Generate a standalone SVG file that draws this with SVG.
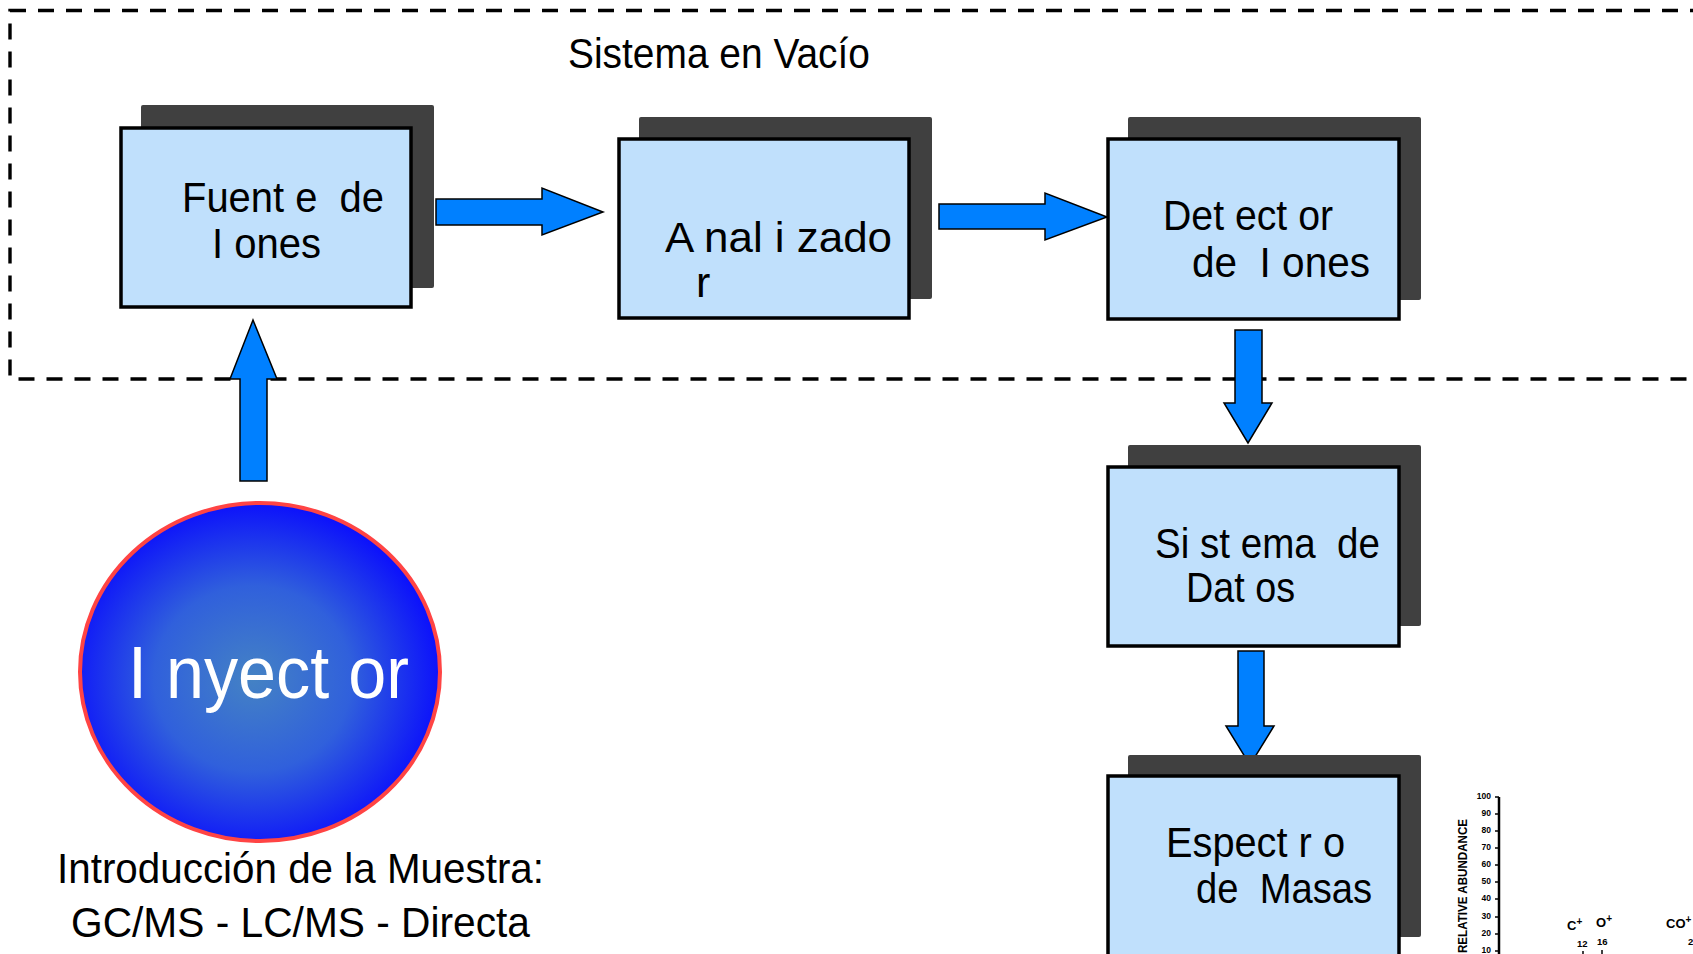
<svg xmlns="http://www.w3.org/2000/svg" width="1693" height="954" viewBox="0 0 1693 954">
  <defs>
    <radialGradient id="injGrad" cx="0.48" cy="0.52" r="0.55">
      <stop offset="0" stop-color="#4482c4"/>
      <stop offset="0.5" stop-color="#3060dc"/>
      <stop offset="1" stop-color="#0808ff"/>
    </radialGradient>
  </defs>
  <style>
    .shadow { fill: #404040; }
    .box { fill: #c0e0fc; stroke: #000; stroke-width: 3.5; }
    .lbl { font-family: "Liberation Sans Narrow", "Liberation Sans", Arial, sans-serif; font-size: 43px; fill: #000; }
    .cap { font-family: "Liberation Sans Narrow", "Liberation Sans", Arial, sans-serif; font-size: 42px; fill: #000; }
    .arrow { fill: #0080ff; stroke: #000; stroke-width: 1.5; stroke-linejoin: miter; }
    .chart { font-family: "Liberation Sans", Arial, sans-serif; font-weight: bold; fill: #000; }
  </style>
  <rect width="1693" height="954" fill="#fff"/>

  <g id="vacuum-boundary">
    <rect x="10" y="10.5" width="1760" height="368.5" fill="none" stroke="#000" stroke-width="3.4" stroke-dasharray="16 12"/>
    <text class="cap" x="568" y="68" textLength="302" lengthAdjust="spacingAndGlyphs">Sistema en Vacío</text>
  </g>

  <g id="connectors">
    <polygon class="arrow" points="436,199 542,199 542,188 603,212 542,235 542,225 436,225"/>
    <polygon class="arrow" points="939,204 1045,204 1045,193 1107,217 1045,240 1045,229 939,229"/>
    <polygon class="arrow" points="1235,330 1262,330 1262,403 1272,403 1248,443 1224,403 1235,403"/>
    <polygon class="arrow" points="1238,651 1264,651 1264,726 1274,726 1250,765 1226,726 1238,726"/>
    <polygon class="arrow" points="240,481 267,481 267,379 277,379 253,320 230,379 240,379"/>
  </g>

  <g id="fuente">
    <rect class="shadow" x="141" y="105" width="293" height="183" rx="2"/>
    <rect class="box" x="121" y="128" width="290" height="179"/>
    <text class="lbl" x="182" y="212" textLength="202" lengthAdjust="spacingAndGlyphs" xml:space="preserve">Fuent e  de</text>
    <text class="lbl" x="212" y="258" textLength="109" lengthAdjust="spacingAndGlyphs">I ones</text>
  </g>

  <g id="analizador">
    <rect class="shadow" x="639" y="117" width="293" height="182" rx="2"/>
    <rect class="box" x="619" y="139" width="290" height="179"/>
    <text class="lbl" x="665" y="252" textLength="227" lengthAdjust="spacingAndGlyphs">A nal i zado</text>
    <text class="lbl" x="696" y="297">r</text>
  </g>

  <g id="detector">
    <rect class="shadow" x="1128" y="117" width="293" height="183" rx="2"/>
    <rect class="box" x="1108" y="139" width="291" height="180"/>
    <text class="lbl" x="1163" y="230" textLength="170" lengthAdjust="spacingAndGlyphs">Det ect or</text>
    <text class="lbl" x="1192" y="277" textLength="178" lengthAdjust="spacingAndGlyphs" xml:space="preserve">de  I ones</text>
  </g>

  <g id="datos">
    <rect class="shadow" x="1128" y="445" width="293" height="181" rx="2"/>
    <rect class="box" x="1108" y="467" width="291" height="179"/>
    <text class="lbl" x="1155" y="558" textLength="225" lengthAdjust="spacingAndGlyphs" xml:space="preserve">Si st ema  de</text>
    <text class="lbl" x="1186" y="602" textLength="109" lengthAdjust="spacingAndGlyphs">Dat os</text>
  </g>

  <g id="espectro">
    <rect class="shadow" x="1128" y="755" width="293" height="182" rx="2"/>
    <rect class="box" x="1108" y="776" width="291" height="190"/>
    <text class="lbl" x="1166" y="857" textLength="179" lengthAdjust="spacingAndGlyphs">Espect r o</text>
    <text class="lbl" x="1196" y="903" textLength="176" lengthAdjust="spacingAndGlyphs" xml:space="preserve">de  Masas</text>
  </g>

  <g id="inyector">
    <ellipse cx="260" cy="672" rx="180" ry="169" fill="url(#injGrad)" stroke="#ff4444" stroke-width="4"/>
    <text x="128" y="698" font-family="Liberation Sans, Arial, sans-serif" font-size="74" fill="#fff" textLength="281" lengthAdjust="spacingAndGlyphs">I nyect or</text>
    <text class="cap" x="57" y="883" textLength="487" lengthAdjust="spacingAndGlyphs">Introducción de la Muestra:</text>
    <text class="cap" x="71" y="937" textLength="459" lengthAdjust="spacingAndGlyphs">GC/MS - LC/MS - Directa</text>
  </g>

  <g id="spectrum-chart">
    <line x1="1499" y1="797" x2="1499" y2="954" stroke="#000" stroke-width="2.5"/>
    <g stroke="#000" stroke-width="1.5">
      <line x1="1495" y1="797" x2="1499" y2="797"/>
      <line x1="1495" y1="814" x2="1499" y2="814"/>
      <line x1="1495" y1="831" x2="1499" y2="831"/>
      <line x1="1495" y1="848" x2="1499" y2="848"/>
      <line x1="1495" y1="865" x2="1499" y2="865"/>
      <line x1="1495" y1="882" x2="1499" y2="882"/>
      <line x1="1495" y1="899" x2="1499" y2="899"/>
      <line x1="1495" y1="917" x2="1499" y2="917"/>
      <line x1="1495" y1="934" x2="1499" y2="934"/>
      <line x1="1495" y1="951" x2="1499" y2="951"/>
      <line x1="1583" y1="951" x2="1583" y2="954"/>
      <line x1="1602" y1="950" x2="1602" y2="954"/>
    </g>
    <g class="chart" font-size="8.5" text-anchor="end">
      <text x="1491" y="799">100</text>
      <text x="1491" y="816">90</text>
      <text x="1491" y="833">80</text>
      <text x="1491" y="850">70</text>
      <text x="1491" y="867">60</text>
      <text x="1491" y="884">50</text>
      <text x="1491" y="901">40</text>
      <text x="1491" y="919">30</text>
      <text x="1491" y="936">20</text>
      <text x="1491" y="953">10</text>
    </g>
    <text class="chart" font-size="12" transform="translate(1467,953) rotate(-90)" textLength="134" lengthAdjust="spacingAndGlyphs">RELATIVE ABUNDANCE</text>
    <text class="chart" font-size="13" x="1567" y="930">C<tspan font-size="10" dy="-5">+</tspan></text>
    <text class="chart" font-size="13" x="1596" y="927">O<tspan font-size="10" dy="-5">+</tspan></text>
    <text class="chart" font-size="13" x="1666" y="928">CO<tspan font-size="10" dy="-5">+</tspan></text>
    <text class="chart" font-size="9.5" x="1577" y="947">12</text>
    <text class="chart" font-size="9.5" x="1597" y="945">16</text>
    <text class="chart" font-size="9.5" x="1688" y="945">28</text>
  </g>
</svg>
